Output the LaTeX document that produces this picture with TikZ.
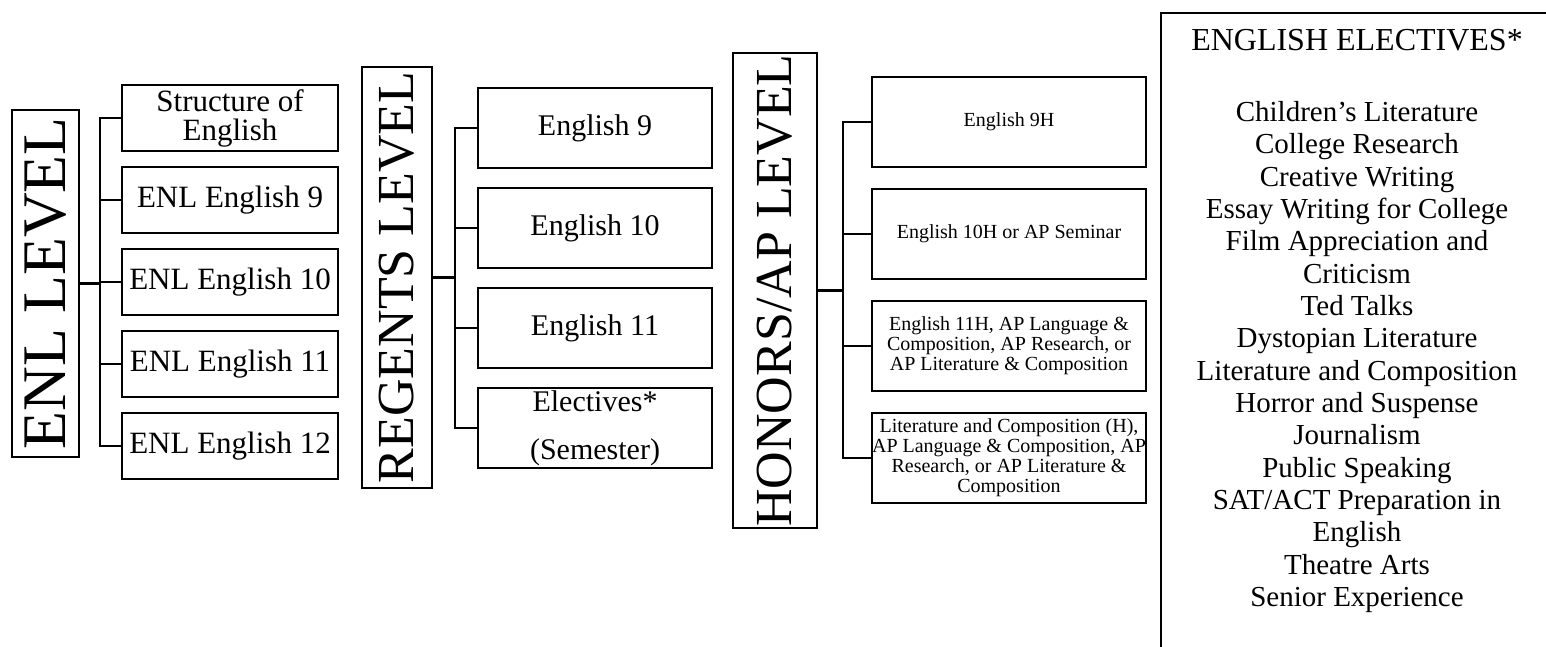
\documentclass[tikz,border=0pt]{standalone}
\usepackage{fontspec}
\setmainfont{Liberation Serif}
\usetikzlibrary{positioning}

\tikzset{
	levelbox/.style={draw, line width=1.2pt, rotate=90, inner sep=0pt, outer sep=0pt},
	course/.style={draw, line width=1.2pt, inner sep=0pt, outer sep=0pt, align=center},
	enlcourse/.style={course, minimum width=108pt, minimum height=33pt, font=\fontsize{15.5}{14.5}\selectfont},
	regcourse/.style={course, minimum width=117pt, minimum height=40pt, font=\fontsize{15}{24}\selectfont},
	honcourse/.style={course, minimum width=137pt, minimum height=45pt, font=\fontsize{10}{10}\selectfont},
	link/.style={line width=1.1pt}
}

\begin{document}
\begin{tikzpicture}[x=0.5pt, y=-0.5pt]
	\useasboundingbox (0,0) rectangle (1546,647);
	\clip (0,0) rectangle (1546,647);
	
	% ENL level and its courses
	\node[levelbox, minimum width=173.5pt, minimum height=33.5pt, font=\fontsize{31}{32}\selectfont] (enl) at (45.5,283.5) {ENL LEVEL};
	\node[enlcourse] (enl1) at (230,118) {Structure of\\English};
	\node[enlcourse, below=8pt of enl1] (enl2) {ENL English 9};
	\node[enlcourse, below=8pt of enl2] (enl3) {ENL English 10};
	\node[enlcourse, below=8pt of enl3] (enl4) {ENL English 11};
	\node[enlcourse, below=8pt of enl4] (enl5) {ENL English 12};
	\foreach \i in {1,...,5}
	\draw[link] (enl.south) -- ++(21,0) |- (enl\i.west);
	
	% Regents level and its courses
	\node[levelbox, minimum width=210.5pt, minimum height=35pt, font=\fontsize{26}{27}\selectfont] (reg) at (397,277.5) {REGENTS LEVEL};
	\node[regcourse] (reg1) at (595,128) {English 9};
	\node[regcourse, below=10pt of reg1] (reg2) {English 10};
	\node[regcourse, below=10pt of reg2] (reg3) {English 11};
	\node[regcourse, below=10pt of reg3] (reg4) {Electives*\\(Semester)};
	\foreach \i in {1,...,4}
	\draw[link] (reg.south) -- ++(23,0) |- (reg\i.west);
	
	% Honors/AP level and its courses
	\node[levelbox, minimum width=237.5pt, minimum height=42pt, font=\fontsize{26}{27}\selectfont] (hon) at (775,290.5) {HONORS/AP LEVEL};
	\node[honcourse] (hon1) at (1009,122) {English 9H};
	\node[honcourse, below=11pt of hon1] (hon2) {English 10H or AP Seminar};
	\node[honcourse, below=11pt of hon2] (hon3) {English 11H, AP Language \&\\Composition, AP Research, or\\AP Literature \& Composition};
	\node[honcourse, below=11pt of hon3] (hon4) {Literature and Composition (H),\\AP Language \& Composition, AP\\Research, or AP Literature \&\\Composition};
	\foreach \i in {1,...,4}
	\draw[link] (hon.south) -- ++(26,0) |- (hon\i.west);
	
	% Electives list, box runs off the page
	\node[draw, line width=0.9pt, anchor=north west, minimum width=197.5pt, minimum height=400pt, inner sep=0pt] (elec) at (1160,12) {};
	\node[font=\fontsize{16}{18}\selectfont] (electitle) at (1357,40) {ENGLISH ELECTIVES*};
	\node[align=center, inner sep=0pt, font=\fontsize{14.5}{16.17}\selectfont] (eleclist) at (1357,357) {Children’s Literature\\College Research\\Creative Writing\\Essay Writing for College\\Film Appreciation and\\Criticism\\Ted Talks\\Dystopian Literature\\Literature and Composition\\Horror and Suspense\\Journalism\\Public Speaking\\SAT/ACT Preparation in\\English\\Theatre Arts\\Senior Experience};
\end{tikzpicture}
\end{document}
